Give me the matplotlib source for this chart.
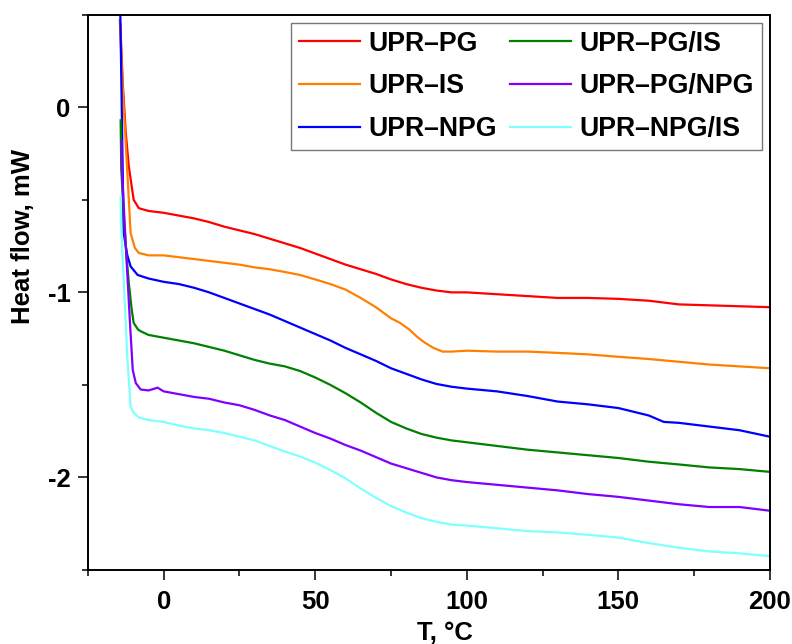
import matplotlib
matplotlib.use("Agg")
import matplotlib.pyplot as plt
from matplotlib.ticker import MultipleLocator

plt.rcParams['font.family'] = ['Liberation Sans', 'DejaVu Sans']
plt.rcParams['font.weight'] = 'bold'
plt.rcParams['axes.unicode_minus'] = False

# DSC curves
t_main = [0, 5, 10, 15, 20, 25, 30, 35, 40, 45, 50, 55, 60, 65, 70, 75, 80, 85, 90, 95, 100,
          110, 120, 130, 140, 150, 160, 170, 180, 190, 200]

t_pg = [-14.3, -13.5, -12.5, -11.5, -9.9, -8.2, -5] + t_main
hf_pg = [0.45, 0.13, -0.14, -0.32, -0.50, -0.545, -0.56,
         -0.57, -0.585, -0.60, -0.62, -0.645, -0.665, -0.685, -0.71, -0.735, -0.76, -0.79,
         -0.82, -0.85, -0.875, -0.90, -0.93, -0.955, -0.975, -0.99, -1.0, -1.0,
         -1.01, -1.02, -1.03, -1.03, -1.035, -1.045, -1.065, -1.07, -1.075, -1.08]

t_is = [-14.5, -13.5, -12.0, -10.9, -9.5, -8.2, -5, 0, 5, 10, 15, 20, 25, 30, 35, 40, 45, 50,
        55, 60, 65, 70, 72.5, 75, 78, 81, 83.6, 86, 89, 92, 95, 100, 110, 120, 130, 140, 150,
        160, 170, 180, 190, 200]
hf_is = [0.47, 0.1, -0.35, -0.68, -0.76, -0.787, -0.80, -0.80, -0.81, -0.82, -0.83, -0.84,
         -0.85, -0.865, -0.875, -0.89, -0.906, -0.93, -0.955, -0.985, -1.03, -1.08, -1.11,
         -1.14, -1.165, -1.20, -1.24, -1.27, -1.30, -1.32, -1.32, -1.315, -1.32, -1.32,
         -1.327, -1.335, -1.348, -1.36, -1.375, -1.39, -1.40, -1.41]

t_npg = [-14.4, -13.2, -12.0, -10.9, -8.6, -5, 0, 5, 10, 15, 20, 25, 30, 35, 40, 45, 50, 55,
         60, 65, 70, 75, 80, 85, 90, 95, 100, 110, 120, 130, 140, 150, 155, 160, 165, 170,
         180, 190, 200]
hf_npg = [0.6, -0.68, -0.80, -0.86, -0.906, -0.925, -0.943, -0.955, -0.975, -1.0, -1.03,
          -1.06, -1.09, -1.12, -1.155, -1.19, -1.225, -1.26, -1.30, -1.335, -1.37, -1.41,
          -1.44, -1.47, -1.495, -1.51, -1.52, -1.535, -1.56, -1.59, -1.605, -1.625, -1.645,
          -1.665, -1.70, -1.705, -1.725, -1.745, -1.78]

t_pgis = [-14.2, -14.0, -13.3, -12.3, -11.5, -10.5, -9.9, -8.5, -7.6, -5] + t_main
hf_pgis = [-0.07, -0.33, -0.55, -0.80, -0.95, -1.10, -1.165, -1.20, -1.21, -1.23,
           -1.245, -1.26, -1.275, -1.295, -1.315, -1.34, -1.365, -1.385, -1.40, -1.425,
           -1.46, -1.50, -1.545, -1.595, -1.65, -1.70, -1.735, -1.765, -1.785, -1.80, -1.81,
           -1.83, -1.85, -1.865, -1.88, -1.895, -1.915, -1.93, -1.946, -1.955, -1.97]

t_pgnpg = [-13.9, -13.8, -12.9, -11.9, -11.0, -10.2, -9.2, -7.6, -5, -2] + t_main
hf_pgnpg = [-0.18, -0.33, -0.62, -0.93, -1.2, -1.42, -1.49, -1.525, -1.53, -1.515,
            -1.535, -1.55, -1.565, -1.575, -1.595, -1.61, -1.635, -1.665, -1.69, -1.725,
            -1.76, -1.79, -1.825, -1.855, -1.89, -1.925, -1.95, -1.975, -2.0, -2.015, -2.025,
            -2.04, -2.055, -2.07, -2.09, -2.105, -2.125, -2.145, -2.16, -2.16, -2.18]

t_npgis = [-14.2, -14.1, -13.0, -12.0, -10.9, -9.9, -8.2, -5] + t_main
hf_npgis = [-0.485, -0.625, -1.0, -1.35, -1.62, -1.65, -1.676, -1.69,
            -1.70, -1.72, -1.735, -1.745, -1.76, -1.78, -1.80, -1.83, -1.86, -1.887,
            -1.92, -1.96, -2.005, -2.06, -2.11, -2.155, -2.19, -2.22, -2.24, -2.255, -2.26,
            -2.275, -2.29, -2.297, -2.31, -2.325, -2.355, -2.38, -2.40, -2.41, -2.426]

series = [
    ("UPR–PG", t_pg, hf_pg, "#ff0000"),
    ("UPR–IS", t_is, hf_is, "#ff8000"),
    ("UPR–NPG", t_npg, hf_npg, "#0000ff"),
    ("UPR–PG/IS", t_pgis, hf_pgis, "#008000"),
    ("UPR–PG/NPG", t_pgnpg, hf_pgnpg, "#8000ff"),
    ("UPR–NPG/IS", t_npgis, hf_npgis, "#80ffff"),
]

fig = plt.figure(figsize=(7.92, 6.44), dpi=100)
ax = fig.add_axes([0.111, 0.115, 0.861, 0.862])

for name, t, hf, c in series:
    ax.plot(t, hf, color=c, lw=1.6, label=name)

ax.set_xlim(-25, 200)
ax.set_ylim(-2.5, 0.5)
ax.xaxis.set_major_locator(MultipleLocator(50))
ax.xaxis.set_minor_locator(MultipleLocator(25))
ax.yaxis.set_major_locator(MultipleLocator(1))
ax.yaxis.set_minor_locator(MultipleLocator(0.5))
ax.tick_params(which='major', length=7.5, width=1.1, labelsize=18.5)
ax.tick_params(which='minor', length=4, width=1.1)
ax.tick_params(axis='x', which='major', pad=7)
ax.tick_params(axis='y', which='major', pad=5)
for s in ax.spines.values():
    s.set_linewidth(1.4)

ax.set_xlabel("T, °C", fontsize=18.5, fontweight='bold')
ax.set_ylabel("Heat flow, mW", fontsize=18.5, fontweight='bold')
ax.xaxis.set_label_coords(0.523, -0.092)
ax.yaxis.set_label_coords(-0.078, 0.6)

leg = ax.legend(ncol=2, loc='upper right', prop={'weight': 'bold', 'size': 19.2},
                frameon=True, fancybox=False, edgecolor='#555555', borderaxespad=0.3,
                handlelength=2.3, handletextpad=0.3, columnspacing=0.5, labelspacing=0.62,
                borderpad=0.3)
leg.get_frame().set_linewidth(1.0)

fig.savefig("out.png", dpi=100)
